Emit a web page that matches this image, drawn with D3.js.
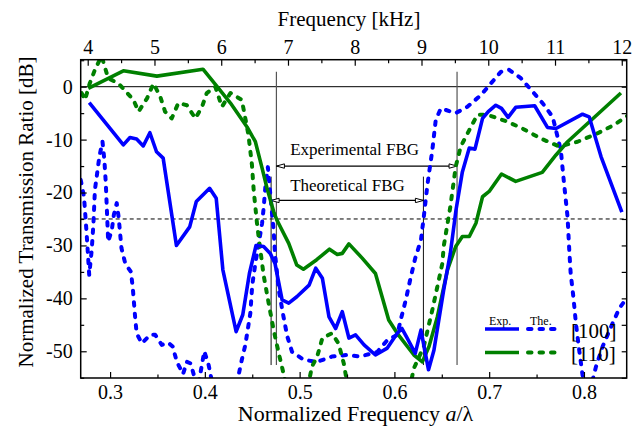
<!DOCTYPE html>
<html>
<head>
<meta charset="utf-8">
<script src="https://cdn.jsdelivr.net/npm/d3@7"></script>
<style>
  body { margin: 0; background: #fff; }
</style>
</head>
<body>
<svg width="638" height="435"></svg>
<script>
// ---- data (a/lambda, dB) ----
const exp100X = [0.278, 0.314, 0.321, 0.328, 0.335, 0.342, 0.349, 0.356, 0.370, 0.384, 0.391, 0.405, 0.412, 0.419, 0.433, 0.440, 0.447, 0.454, 0.462, 0.469, 0.474, 0.4815, 0.4885, 0.497, 0.510, 0.517, 0.524, 0.531, 0.538, 0.545, 0.552, 0.559, 0.568, 0.580, 0.5925, 0.603, 0.608, 0.6135, 0.622, 0.628, 0.636, 0.6417, 0.652, 0.659, 0.665, 0.6717, 0.679, 0.685, 0.693, 0.699, 0.707, 0.713, 0.720, 0.728, 0.748, 0.7615, 0.7705, 0.7985, 0.8055, 0.818, 0.840];
const exp100Y = [-3.0, -11.0, -9.6, -9.9, -11.2, -8.7, -12.3, -13.5, -30.0, -26.5, -21.7, -19.2, -21.1, -34.6, -46.3, -43.1, -35.3, -30.0, -30.2, -31.5, -33.4, -40.3, -40.9, -39.7, -37.5, -34.3, -36.2, -43.5, -45.7, -42.5, -47.5, -46.9, -48.8, -50.7, -49.4, -46.6, -45.7, -47.5, -50.4, -46.0, -53.5, -49.8, -38.4, -31.5, -23.3, -16.1, -11.6, -11.8, -6.0, -4.7, -3.5, -4.1, -5.8, -3.9, -3.6, -7.7, -7.9, -5.2, -5.7, -13.2, -23.7];

const the100X = [0.269, 0.2725, 0.275, 0.277, 0.278, 0.2806, 0.2824, 0.284, 0.2887, 0.292, 0.294, 0.2955, 0.297, 0.298, 0.3018, 0.304, 0.307, 0.309, 0.312, 0.316, 0.322, 0.324, 0.3264, 0.328, 0.3335, 0.3423, 0.3476, 0.3546, 0.3616, 0.366, 0.3705, 0.377, 0.381, 0.385, 0.390, 0.394, 0.3994, 0.404, 0.410, 0.425, 0.4356, 0.439, 0.4427, 0.448, 0.450, 0.4533, 0.4604, 0.462, 0.464, 0.4665, 0.471, 0.4726, 0.474, 0.478, 0.483, 0.487, 0.492, 0.504, 0.5185, 0.534, 0.550, 0.564, 0.582, 0.5925, 0.603, 0.6066, 0.612, 0.617, 0.622, 0.628, 0.631, 0.635, 0.640, 0.6436, 0.649, 0.6647, 0.677, 0.6912, 0.7017, 0.7123, 0.721, 0.7334, 0.7457, 0.7563, 0.767, 0.7756, 0.779, 0.7827, 0.7845, 0.786, 0.789, 0.7915, 0.795, 0.7985, 0.804, 0.8127, 0.8197, 0.8285, 0.8373, 0.846];
const the100Y = [-17.6, -20.8, -27.1, -32.7, -35.6, -30.9, -26.0, -19.5, -13.2, -10.4, -13.9, -18.3, -24.9, -29.3, -27.1, -24.2, -22.0, -24.6, -30.5, -33.4, -35.0, -38.1, -43.5, -46.6, -48.5, -46.9, -46.9, -48.8, -48.4, -49.1, -52.0, -54.3, -52.0, -52.3, -55.5, -55.5, -50.0, -52.6, -58.0, -60.0, -54.5, -51.6, -48.8, -42.8, -37.5, -33.4, -25.8, -23.0, -18.6, -15.2, -24.2, -27.1, -31.5, -38.4, -43.5, -47.2, -50.1, -51.6, -52.0, -51.0, -50.7, -51.0, -50.1, -47.9, -46.9, -44.1, -40.3, -36.2, -32.4, -29.0, -24.6, -18.3, -12.0, -6.3, -4.1, -5.0, -3.8, -1.6, 0.6, 2.8, 3.2, 1.6, -0.9, -3.1, -5.7, -12.0, -18.3, -24.6, -30.9, -35.3, -40.0, -44.7, -49.8, -54.5, -59.0, -52.9, -49.1, -45.4, -41.9, -39.7];

const exp110X = [0.277, 0.314, 0.3494, 0.398, 0.413, 0.427, 0.4445, 0.4533, 0.4604, 0.4656, 0.4726, 0.476, 0.4885, 0.497, 0.504, 0.518, 0.5315, 0.5397, 0.545, 0.552, 0.566, 0.580, 0.587, 0.594, 0.603, 0.6206, 0.6295, 0.6365, 0.6453, 0.656, 0.6647, 0.6717, 0.679, 0.686, 0.693, 0.700, 0.713, 0.728, 0.756, 0.7705, 0.7827, 0.839];
const exp110Y = [-0.3, 3.0, 2.0, 3.3, 0.0, -3.1, -7.6, -10.4, -15.4, -19.2, -23.6, -25.2, -29.6, -33.7, -34.5, -32.7, -30.7, -31.7, -31.5, -29.7, -32.4, -35.3, -39.7, -44.1, -46.6, -50.7, -52.0, -49.1, -43.5, -34.6, -30.2, -28.3, -28.3, -25.8, -20.8, -19.8, -16.5, -17.9, -16.2, -12.9, -10.4, -1.2];

const the110X = [0.270, 0.2735, 0.2785, 0.284, 0.291, 0.298, 0.309, 0.3247, 0.330, 0.339, 0.3458, 0.353, 0.358, 0.365, 0.372, 0.381, 0.390, 0.397, 0.402, 0.411, 0.418, 0.427, 0.439, 0.446, 0.4497, 0.4515, 0.455, 0.4567, 0.462, 0.4673, 0.4726, 0.478, 0.483, 0.490, 0.505, 0.513, 0.5185, 0.524, 0.534, 0.541, 0.5466, 0.552, 0.565, 0.610, 0.6206, 0.631, 0.640, 0.6453, 0.6506, 0.652, 0.659, 0.6647, 0.670, 0.679, 0.6876, 0.698, 0.719, 0.735, 0.7545, 0.774, 0.7932, 0.8145, 0.832, 0.8476];
const the110Y = [-1.2, -2.5, 0.6, 3.2, 5.8, 1.6, 0.6, -2.5, -4.7, -2.2, 0.6, -1.9, -4.7, -6.0, -3.1, -3.5, -6.0, -3.8, -1.2, 0.0, -3.8, -1.2, -2.5, -9.1, -14.8, -19.5, -25.8, -28.3, -35.6, -40.9, -46.0, -50.4, -54.2, -60.0, -60.0, -52.9, -51.0, -47.5, -46.6, -48.5, -52.3, -58.0, -62.0, -62.0, -53.2, -49.1, -42.2, -37.8, -33.4, -30.2, -22.7, -15.1, -11.3, -8.2, -5.3, -5.3, -6.6, -7.9, -9.8, -11.3, -10.4, -8.8, -7.2, -5.3];

// band-gap markers (a/lambda) and reference levels (dB)
const fbgExp = [0.4755, 0.6661];
const fbgThe = [0.4699, 0.6306];
const refLevel = 0;
const cutLevel = -25;

const xTicks = [0.3, 0.4, 0.5, 0.6, 0.7, 0.8];
const xMinor = [0.35, 0.45, 0.55, 0.65, 0.75];
const kHzTicks = [4, 5, 6, 7, 8, 9, 10, 11, 12];
const kHzMinor = [4.5, 5.5, 6.5, 7.5, 8.5, 9.5, 10.5, 11.5];
const yTicks = [0, -10, -20, -30, -40, -50];
const yMinor = [5, -5, -15, -25, -35, -45, -55];

const legendRows = [
  { label: "[100]", color: "#0000ff" },
  { label: "[110]", color: "#008000" }
];

// ---- layout ----
const FONT = '"Liberation Serif", "Times New Roman", Times, serif';
const svg = d3.select("svg").style("font-family", FONT);
const width = 638, height = 435;
const margin = { top: 59.7, right: 11.3, bottom: 57, left: 80.7 };
const W = width - margin.left - margin.right;
const H = height - margin.top - margin.bottom;

const x = d3.scaleLinear().domain([0.269, 0.8451]).range([0, W]);
const y = d3.scaleLinear().domain([-55.05, 5.1]).range([H, 0]);
// kHz axis on top, proportional to a/lambda
const xTop = d3.scaleLinear().domain([4, 12]).range([x(0.2764), x(0.8399)]);

const g = svg.append("g").attr("transform", `translate(${margin.left},${margin.top})`);

g.append("clipPath").attr("id", "plotClip")
  .append("rect").attr("width", W).attr("height", H);

// reference lines
g.append("line").attr("x1", 0).attr("x2", W)
  .attr("y1", y(refLevel)).attr("y2", y(refLevel))
  .attr("stroke", "#000").attr("stroke-width", 1);
g.append("line").attr("x1", 0).attr("x2", W)
  .attr("y1", y(cutLevel)).attr("y2", y(cutLevel))
  .attr("stroke", "#000").attr("stroke-width", 1).attr("stroke-dasharray", "4,3");

// FBG vertical markers
fbgExp.forEach(v => {
  g.append("line").attr("x1", x(v)).attr("x2", x(v))
    .attr("y1", y(2.8)).attr("y2", y(-52.6))
    .attr("stroke", "#555").attr("stroke-width", 1.2);
});
fbgThe.forEach(v => {
  g.append("line").attr("x1", x(v)).attr("x2", x(v))
    .attr("y1", y(-17.0)).attr("y2", y(-52.6))
    .attr("stroke", "#111").attr("stroke-width", 1);
});

// arrow markers
const defs = svg.append("defs");
defs.append("marker").attr("id", "arr")
  .attr("viewBox", "0 0 10 6").attr("refX", 9).attr("refY", 3)
  .attr("markerWidth", 10).attr("markerHeight", 6)
  .attr("markerUnits", "userSpaceOnUse")
  .attr("orient", "auto-start-reverse")
  .append("path").attr("d", "M1,0.8 L9,3 L1,5.2 Z")
  .attr("fill", "#fff").attr("stroke", "#000").attr("stroke-width", 1);

g.append("line").attr("x1", x(fbgExp[0])).attr("x2", x(fbgExp[1]))
  .attr("y1", y(-15.0)).attr("y2", y(-15.0))
  .attr("stroke", "#000").attr("stroke-width", 1.2)
  .attr("marker-start", "url(#arr)").attr("marker-end", "url(#arr)");
g.append("line").attr("x1", x(fbgThe[0])).attr("x2", x(fbgThe[1]))
  .attr("y1", y(-21.5)).attr("y2", y(-21.5))
  .attr("stroke", "#000").attr("stroke-width", 1.2)
  .attr("marker-start", "url(#arr)").attr("marker-end", "url(#arr)");

g.append("text").attr("x", x(0.490)).attr("y", y(-13.0))
  .style("font-family", FONT).attr("font-size", 17).text("Experimental FBG");
g.append("text").attr("x", x(0.490)).attr("y", y(-19.8))
  .style("font-family", FONT).attr("font-size", 17).text("Theoretical FBG");

// curves
const line = d3.line().x(d => x(d[0])).y(d => y(d[1]));
const series = [
  { xs: the100X, ys: the100Y, color: "#0000ff", dash: true },
  { xs: the110X, ys: the110Y, color: "#008000", dash: true },
  { xs: exp110X, ys: exp110Y, color: "#008000", dash: false },
  { xs: exp100X, ys: exp100Y, color: "#0000ff", dash: false }
];
const curves = g.append("g").attr("clip-path", "url(#plotClip)");
series.forEach(s => {
  curves.append("path")
    .datum(d3.zip(s.xs, s.ys))
    .attr("d", line)
    .attr("fill", "none")
    .attr("stroke", s.color)
    .attr("stroke-width", s.dash ? 4 : 3.6)
    .attr("stroke-linejoin", "round")
    .attr("stroke-linecap", s.dash ? "round" : "butt")
    .attr("stroke-dasharray", s.dash ? "3.5,8" : null);
});

// axes (ticks inward)
function styleAxis(sel, size) {
  sel.attr("font-family", null).attr("font-size", null);
  sel.select(".domain").remove();
  sel.selectAll("line").attr("stroke", "#000").attr("stroke-width", 1.2);
  sel.selectAll("text").style("font-family", FONT).style("font-size", size + "px").attr("fill", "#000");
}
g.append("g").attr("transform", `translate(0,${H})`)
  .call(d3.axisBottom(x).tickValues(xTicks).tickFormat(d3.format(".1f"))
    .tickSizeInner(-6).tickSizeOuter(0).tickPadding(7))
  .call(s => styleAxis(s, 20));
g.append("g").attr("transform", `translate(0,${H})`)
  .call(d3.axisBottom(x).tickValues(xMinor).tickFormat("").tickSizeInner(-3.5).tickSizeOuter(0))
  .call(s => styleAxis(s, 20));
g.append("g")
  .call(d3.axisTop(xTop).tickValues(kHzTicks).tickSizeInner(-6).tickSizeOuter(0).tickPadding(6))
  .call(s => styleAxis(s, 20));
g.append("g")
  .call(d3.axisTop(xTop).tickValues(kHzMinor).tickFormat("").tickSizeInner(-3.5).tickSizeOuter(0))
  .call(s => styleAxis(s, 20));
g.append("g")
  .call(d3.axisLeft(y).tickValues(yTicks).tickFormat(d3.format("d"))
    .tickSizeInner(-6).tickSizeOuter(0).tickPadding(8))
  .call(s => styleAxis(s, 20))
  .call(s => s.selectAll("text").text(d => d === 0 ? "0" : "-" + Math.abs(d)));
g.append("g")
  .call(d3.axisLeft(y).tickValues(yMinor).tickFormat("").tickSizeInner(-3.5).tickSizeOuter(0))
  .call(s => styleAxis(s, 20));
g.append("g").attr("transform", `translate(${W},0)`)
  .call(d3.axisRight(y).tickValues(yTicks.concat(yMinor)).tickFormat("").tickSizeInner(-5).tickSizeOuter(0))
  .call(s => styleAxis(s, 20));

// frame
g.append("rect").attr("width", W).attr("height", H)
  .attr("fill", "none").attr("stroke", "#000").attr("stroke-width", 1.5);

// axis titles
svg.append("text").attr("x", 349).attr("y", 26).attr("text-anchor", "middle")
  .style("font-family", FONT).attr("font-size", 21).text("Frequency [kHz]");
const bt = svg.append("text").attr("x", 355.5).attr("y", 421).attr("text-anchor", "middle")
  .style("font-family", FONT).attr("font-size", 22);
bt.append("tspan").text("Normalized Frequency ");
bt.append("tspan").attr("font-style", "italic").text("a");
bt.append("tspan").text("/λ");
svg.append("text").attr("transform", "translate(33,212) rotate(-90)")
  .attr("text-anchor", "middle").style("font-family", FONT).attr("font-size", 21)
  .text("Normalized Transmission Ratio [dB]");

// legend
const lg = svg.append("g").attr("transform", "translate(485,329)");
lg.append("text").attr("x", 4).attr("y", -4).style("font-family", FONT).attr("font-size", 12).text("Exp.");
lg.append("text").attr("x", 45).attr("y", -4).style("font-family", FONT).attr("font-size", 12).text("The.");
legendRows.forEach((r, i) => {
  const yy = i * 23.5;
  lg.append("line").attr("x1", 0).attr("x2", 34).attr("y1", yy).attr("y2", yy)
    .attr("stroke", r.color).attr("stroke-width", 3.6);
  lg.append("line").attr("x1", 43).attr("x2", 75).attr("y1", yy).attr("y2", yy)
    .attr("stroke", r.color).attr("stroke-width", 4)
    .attr("stroke-linecap", "round").attr("stroke-dasharray", "3.5,8");
  lg.append("text").attr("x", 86).attr("y", yy + 8.5).style("font-family", FONT)
    .attr("font-size", 21).text(r.label);
});
</script>
</body>
</html>
